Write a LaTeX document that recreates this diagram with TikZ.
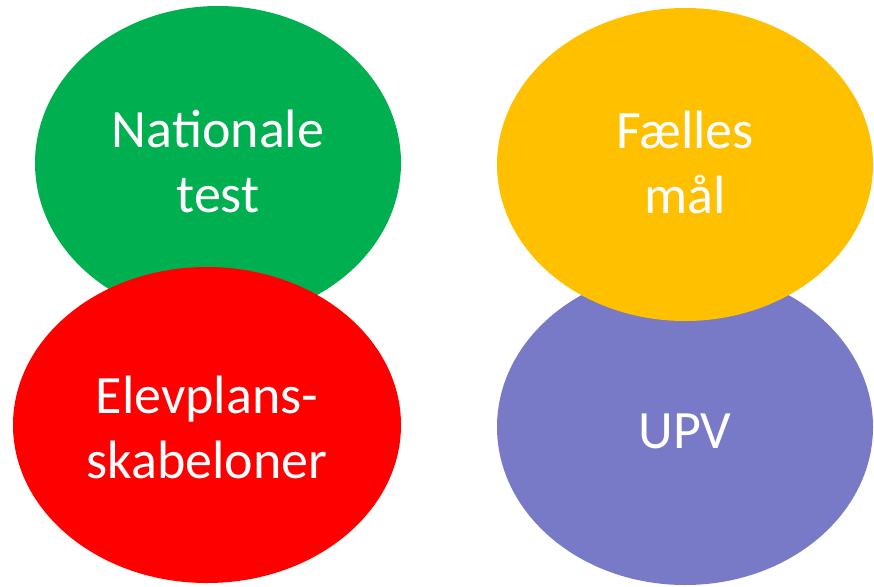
\documentclass[tikz,border=0pt]{standalone}
\usepackage{fontspec}
\setmainfont{Carlito}
\usetikzlibrary{shapes.geometric}
\definecolor{cgreen}{HTML}{00B050}
\definecolor{cred}{HTML}{FF0000}
\definecolor{cyellow}{HTML}{FFC000}
\definecolor{cpurple}{HTML}{7879C7}
\begin{document}
\begin{tikzpicture}[x=1pt,y=-1pt,
  blob/.style={ellipse, inner sep=0pt, draw=none},
  lbl/.style={text=white, font=\fontsize{54}{64}\selectfont, anchor=base, inner sep=0pt}]
\useasboundingbox (0,0) rectangle (874,586);
\node[blob, fill=cgreen, minimum width=366pt, minimum height=314pt] (green) at (218,163) {};
\node[blob, fill=cred, minimum width=388pt, minimum height=316pt] (red) at (207,425) {};
\node[blob, fill=cpurple, minimum width=376pt, minimum height=316pt] (purple) at (685,427) {};
\node[blob, fill=cyellow, minimum width=376pt, minimum height=313pt] (yellow) at (685,164.5) {};
\node[lbl] (g1) at (218,147) {Nationale};
\node[lbl] (g2) at (218,212) {test};
\node[lbl] (y1) at (685,148) {Fælles};
\node[lbl] (y2) at (685,213) {mål};
\node[lbl] (r1) at (207,413) {Elevplans-};
\node[lbl] (r2) at (207,478) {skabeloner};
\node[lbl] (p1) at (685,448) {UPV};
\end{tikzpicture}
\end{document}
